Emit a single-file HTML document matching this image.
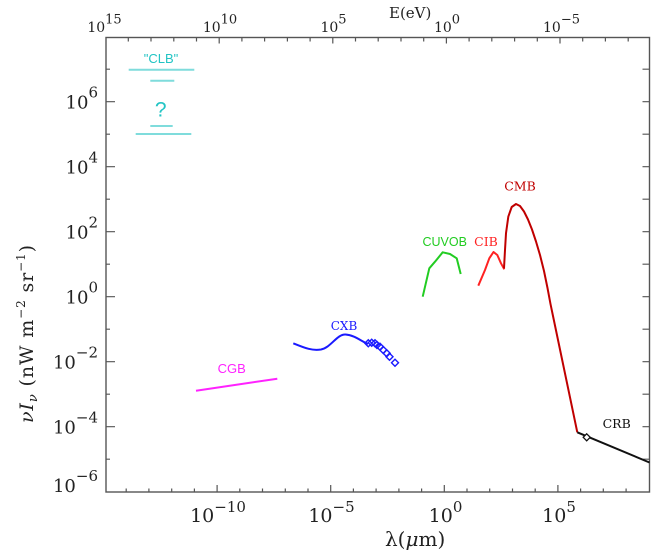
<!DOCTYPE html>
<html><head><meta charset="utf-8"><style>
html,body{margin:0;padding:0;background:#fff;}
svg{display:block;}
.s{font-family:"DejaVu Serif","Liberation Serif",serif;}
.ss{font-family:"Liberation Sans","DejaVu Sans",sans-serif;}
</style></head><body>
<svg width="653" height="554" viewBox="0 0 653 554" xmlns="http://www.w3.org/2000/svg">
<rect width="653" height="554" fill="#fff"/>
<!-- frame -->
<rect x="106" y="37.5" width="543.5" height="454.5" fill="none" stroke="#555" stroke-width="1.4"/>
<g stroke="#555" stroke-width="1.2" fill="none">
<path d="M106 101.7h9M106 166.7h9M106 231.7h9M106 296.7h9M106 361.7h9M106 426.7h9"/>
<path d="M106 69.2h4M106 134.2h4M106 199.2h4M106 264.2h4M106 329.2h4M106 394.2h4M106 459.2h4"/>
<path d="M649.5 69.2h-7M649.5 101.7h-7M649.5 134.2h-7M649.5 166.7h-7M649.5 199.2h-7M649.5 231.7h-7M649.5 264.2h-7M649.5 296.7h-7M649.5 329.2h-7M649.5 361.7h-7M649.5 394.2h-7M649.5 426.7h-7M649.5 459.2h-7"/>
<path d="M126.2 492v-3.5M148.9 492v-3.5M171.7 492v-3.5M194.4 492v-3.5M239.8 492v-3.5M262.5 492v-3.5M285.3 492v-3.5M308 492v-3.5M353.4 492v-3.5M376.1 492v-3.5M398.9 492v-3.5M421.6 492v-3.5M467 492v-3.5M489.7 492v-3.5M512.5 492v-3.5M535.2 492v-3.5M580.6 492v-3.5M603.3 492v-3.5M626.1 492v-3.5"/>
<path d="M217.1 492v-7M330.7 492v-7M444.3 492v-7M557.9 492v-7"/>
<path d="M128.3 37.5v4M151 37.5v4M173.8 37.5v4M196.5 37.5v4M241.9 37.5v4M264.6 37.5v4M287.4 37.5v4M310.1 37.5v4M355.5 37.5v4M378.2 37.5v4M401 37.5v4M423.7 37.5v4M469.1 37.5v4M491.8 37.5v4M514.6 37.5v4M537.3 37.5v4M582.7 37.5v4M605.4 37.5v4M628.2 37.5v4"/>
<path d="M219.2 37.5v6M332.8 37.5v6M446.4 37.5v6M560 37.5v6"/>
</g>

<!-- left tick labels -->
<g class="s" fill="#222" font-size="18" text-anchor="end">
<text x="98" y="108.7">10<tspan font-size="15" dy="-11">6</tspan></text>
<text x="98" y="173.7">10<tspan font-size="15" dy="-11">4</tspan></text>
<text x="98" y="238.7">10<tspan font-size="15" dy="-11">2</tspan></text>
<text x="98" y="303.7">10<tspan font-size="15" dy="-11">0</tspan></text>
<text x="98" y="368.7">10<tspan font-size="15" dy="-11">−2</tspan></text>
<text x="98" y="433.7">10<tspan font-size="15" dy="-11">−4</tspan></text>
<text x="98" y="492">10<tspan font-size="15" dy="-11">−6</tspan></text>
</g>

<!-- bottom tick labels -->
<g class="s" fill="#222" font-size="19" text-anchor="middle">
<text x="218" y="522">10<tspan font-size="15" dy="-10">−10</tspan></text>
<text x="331.5" y="522">10<tspan font-size="15" dy="-10">−5</tspan></text>
<text x="445.5" y="522">10<tspan font-size="15" dy="-10">0</tspan></text>
<text x="559" y="522">10<tspan font-size="15" dy="-10">5</tspan></text>
</g>
<text class="s" x="385" y="546" font-size="20" fill="#222">λ(<tspan font-style="italic">μ</tspan>m)</text>

<!-- top tick labels -->
<g class="s" fill="#222" font-size="14" text-anchor="middle">
<text x="104.5" y="32">10<tspan font-size="13" dy="-8.5">15</tspan></text>
<text x="220" y="32">10<tspan font-size="13" dy="-8.5">10</tspan></text>
<text x="333.5" y="32">10<tspan font-size="13" dy="-8.5">5</tspan></text>
<text x="447" y="32">10<tspan font-size="13" dy="-8.5">0</tspan></text>
<text x="561.5" y="32">10<tspan font-size="13" dy="-8.5">−5</tspan></text>
</g>
<text class="s" x="389" y="18" font-size="15" fill="#222">E(eV)</text>

<!-- y-axis title -->
<text class="s" transform="translate(33,334) rotate(-90)" x="0" y="0" font-size="19" fill="#222" text-anchor="middle" textLength="178" lengthAdjust="spacing"><tspan font-style="italic">νI</tspan><tspan font-style="italic" font-size="13" dy="4">ν</tspan><tspan dy="-4"> (nW m</tspan><tspan font-size="12" dy="-8">−2</tspan><tspan dy="8"> sr</tspan><tspan font-size="12" dy="-8">−1</tspan><tspan dy="8">)</tspan></text>

<!-- CLB -->
<g stroke="#7fdcdc" stroke-width="2">
<path d="M128.7 69.7H194.3M150.3 80.7H174.3M150.3 126H172.7M135.7 134H191.3"/>
</g>
<text class="ss" x="161" y="63" font-size="13" fill="#22c4c4" text-anchor="middle">"CLB"</text>
<text class="ss" x="160.7" y="116.5" font-size="21" fill="#22c4c4" text-anchor="middle">?</text>

<!-- CGB -->
<path d="M196 390.7L277.3 378.7" stroke="#ff22ff" stroke-width="2" fill="none"/>
<text class="ss" x="231.7" y="373" font-size="13" fill="#ff22ff" text-anchor="middle">CGB</text>

<!-- CXB -->
<path d="M293.3 343.3C305 348 312 351 321 349.5C331 347.5 337 334 345.5 334.5C354 335 361 341 368 344" stroke="#1a1aff" stroke-width="2" fill="none"/>
<g stroke="#1a1aff" stroke-width="1.4" fill="none">
<path d="M368.3 339.8l3.5 3.5l-3.5 3.5l-3.5 -3.5z"/>
<path d="M371.7 339.2l3.5 3.5l-3.5 3.5l-3.5 -3.5z"/>
<path d="M375 339.8l3.5 3.5l-3.5 3.5l-3.5 -3.5z"/>
<path d="M377 341.5l3.5 3.5l-3.5 3.5l-3.5 -3.5z"/>
<path d="M380 343.2l3.5 3.5l-3.5 3.5l-3.5 -3.5z"/>
<path d="M383.3 346.5l3.5 3.5l-3.5 3.5l-3.5 -3.5z"/>
<path d="M386.7 349.8l3.5 3.5l-3.5 3.5l-3.5 -3.5z"/>
<path d="M389.5 353.2l3.5 3.5l-3.5 3.5l-3.5 -3.5z"/>
<path d="M395 359.2l3.5 3.5l-3.5 3.5l-3.5 -3.5z"/>
</g>
<text class="s" x="344" y="330" font-size="12" fill="#1a1aff" text-anchor="middle">CXB</text>

<!-- CUVOB -->
<path d="M422.7 296.7L429.3 268.3L435 261.7L442.7 252.3L450 254L456.7 258.3L460.7 274" stroke="#22cc22" stroke-width="2" fill="none" stroke-linejoin="round"/>
<text class="ss" x="444.7" y="246" font-size="12.5" fill="#22cc22" text-anchor="middle">CUVOB</text>

<!-- CIB -->
<path d="M478.3 285.7L485 270L489.3 258.3L493.5 252L497.3 255L501 263.3L504.3 269.3" stroke="#ff2222" stroke-width="2" fill="none" stroke-linejoin="round"/>
<text class="s" x="486" y="246" font-size="12.5" fill="#ff2222" text-anchor="middle">CIB</text>

<!-- CMB -->
<path d="M504 268.3L505 250L506 233.3L508.3 216.7L511.7 207L516 204L520 206L524 211.5L528 219.5L532 229.5L536 241.5L540 255L544 271L547.5 288L550.5 304L553 316L577.3 432.3" stroke="#c00000" stroke-width="2" fill="none" stroke-linejoin="round"/>
<text class="s" x="520" y="190.5" font-size="12.5" fill="#c00000" text-anchor="middle">CMB</text>

<!-- CRB -->
<path d="M577.3 432.3L649.5 462.5" stroke="#111" stroke-width="2" fill="none"/>
<path d="M586.7 433.8l3.5 3.5l-3.5 3.5l-3.5 -3.5z" stroke="#111" stroke-width="1.3" fill="#fff"/>
<text class="s" x="616.7" y="428" font-size="12.5" fill="#111" text-anchor="middle">CRB</text>
</svg>
</body></html>
